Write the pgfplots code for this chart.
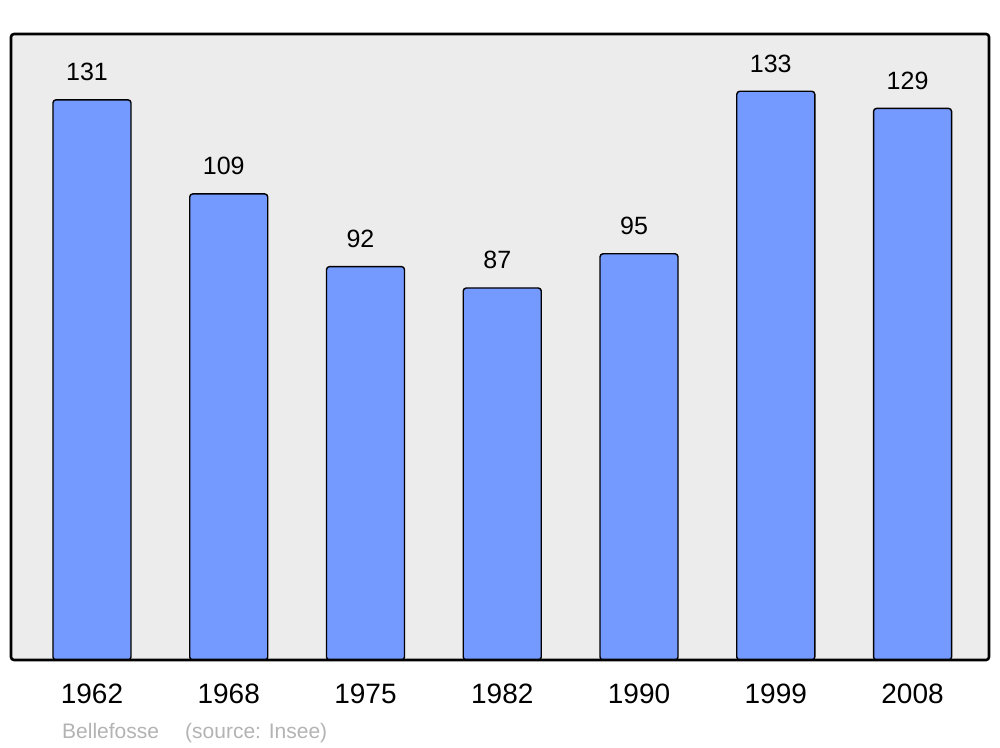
\documentclass[border=0pt]{standalone}
\usepackage{fontspec}
\setmainfont{Liberation Sans}
\usepackage{pgfplots}
\pgfplotsset{compat=1.18}
\definecolor{barblue}{HTML}{7499FF}
\definecolor{panel}{HTML}{ECECEC}
\definecolor{foot}{HTML}{B3B3B3}

\begin{document}
\begin{tikzpicture}[x=1pt,y=1pt]
\path[use as bounding box] (0,0) rectangle (1000,747);
\begin{axis}[
    at={(11pt,87pt)}, anchor=south west,
    scale only axis, width=978pt, height=626pt,
    xmin=-0.592, xmax=6.559,
    ymin=0, ymax=146.4,
    axis line style={draw=none},
    axis background/.style={fill=panel},
    ytick=\empty,
    xtick={0,1,2,3,4,5,6},
    xticklabels={1962,1968,1975,1982,1990,1999,2008},
    major tick length=0pt,
    xticklabel style={font=\fontsize{28}{30}\selectfont, yshift=-20pt},
    /pgf/number format/assume math mode=true,
    clip=false,
]
\addplot[ybar, bar width=78pt, fill=barblue, draw=black, line width=1.4pt,
    rounded corners=3pt,
    nodes near coords,
    every node near coord/.append style={font=\fontsize{25}{27}\selectfont, anchor=base, yshift=19pt, xshift=-5pt, /pgf/number format/assume math mode=true},
] coordinates {(0,131) (1,109) (2,92) (3,87) (4,95) (5,133) (6,129)};
\draw[line width=2.6pt, rounded corners=3pt] (rel axis cs:0,0) rectangle (rel axis cs:1,1);
\end{axis}
\node[anchor=base west, text=foot, font=\fontsize{21}{23}\selectfont, inner sep=0pt] at (62,9) {Bellefosse};
\node[anchor=base west, text=foot, font=\fontsize{21}{23}\selectfont, inner sep=0pt] at (185,9) {(source: Insee)};
\end{tikzpicture}
\end{document}
